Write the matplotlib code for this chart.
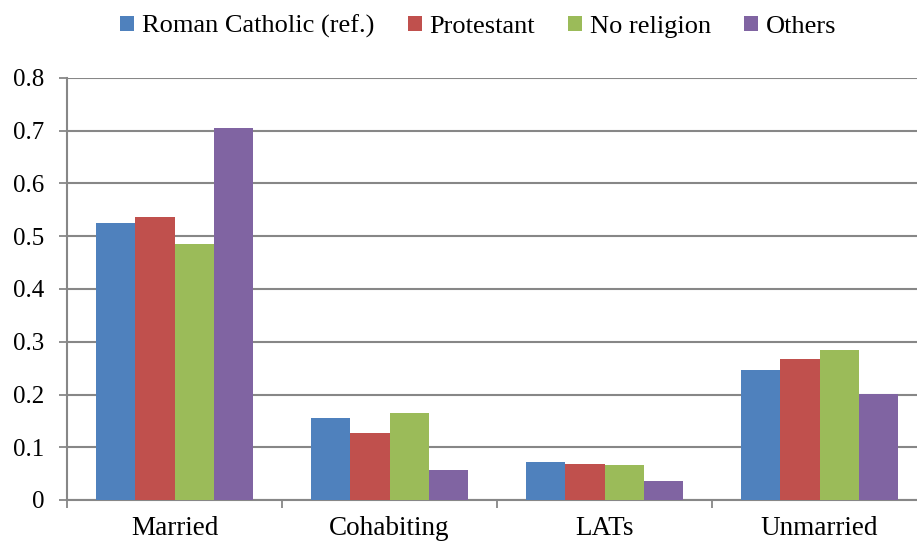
import numpy as np
import matplotlib
matplotlib.use("Agg")
import matplotlib.pyplot as plt
from matplotlib.patches import Patch

categories = ["Married", "Cohabiting", "LATs", "Unmarried"]
series = ["Roman Catholic (ref.)", "Protestant", "No religion", "Others"]
catholic = [0.525, 0.155, 0.072, 0.247]
protestant = [0.536, 0.127, 0.069, 0.267]
no_religion = [0.485, 0.165, 0.066, 0.284]
others = [0.706, 0.056, 0.036, 0.201]
colors = ["#4F81BD", "#C0504D", "#9BBB59", "#8064A2"]

plt.rcParams["font.family"] = ["Liberation Serif", "DejaVu Serif"]

fig = plt.figure(figsize=(9.17, 5.46), dpi=100)
ax = fig.add_axes([67 / 917, 1 - 500 / 546, 860 / 917, 422 / 546])

x = np.arange(len(categories))
w = 0.727 / 4
grid_c = "#878787"
for i, vals in enumerate([catholic, protestant, no_religion, others]):
    ax.bar(x + (i - 1.5) * w, vals, width=w, color=colors[i], zorder=3)

ax.set_xlim(-0.5, len(categories) - 0.5)
ax.set_ylim(0, 0.8)
ax.set_yticks(np.arange(0, 0.81, 0.1))
ax.set_yticklabels(["0"] + [f"{v:.1f}" for v in np.arange(0.1, 0.81, 0.1)])
ax.yaxis.grid(True, color=grid_c, linewidth=1.5, zorder=0)
ax.set_axisbelow(True)

ax.set_xticks(x)
ax.set_xticklabels(categories)
ax.set_xticks(np.arange(-0.5, len(categories)), minor=True)
ax.tick_params(axis="x", which="major", length=0, pad=11.5, labelsize=19.5)
ax.tick_params(axis="x", which="minor", length=5.8, width=1.3, color=grid_c)
ax.tick_params(axis="y", length=5.8, width=1.3, color=grid_c, pad=10.5, labelsize=18)

for s in ["top", "right"]:
    ax.spines[s].set_visible(False)
for s in ["left", "bottom"]:
    ax.spines[s].set_color(grid_c)
    ax.spines[s].set_linewidth(1.5)

handles = [Patch(facecolor=c) for c in colors]
fig.legend(handles, series, loc="center", bbox_to_anchor=(478.5 / 917, 1 - 26.5 / 546),
           ncol=4, frameon=False, fontsize=19, handlelength=0.53, handleheight=0.53,
           handletextpad=0.3, columnspacing=1.25, borderpad=0, borderaxespad=0)

fig.savefig("out.png", dpi=100)
